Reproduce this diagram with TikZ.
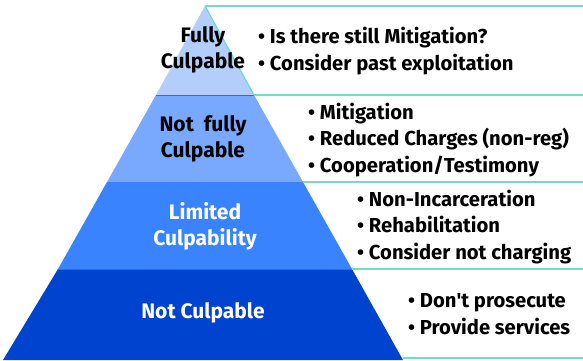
\documentclass[tikz,border=0pt]{standalone}
\usepackage{fontspec}
\setmainfont{Fira Sans}
\usetikzlibrary{positioning}

\definecolor{tierA}{HTML}{B4CEFB}
\definecolor{tierB}{HTML}{78A9FF}
\definecolor{tierC}{HTML}{3A83FF}
\definecolor{tierD}{HTML}{0043CE}
\definecolor{rimline}{HTML}{6FDCC8}

\tikzset{
  tierlabel/.style={align=center, font=\bfseries\fontsize{21}{26}\selectfont},
  pointlist/.style={anchor=west, align=left, font=\bfseries\fontsize{20.2}{26.5}\selectfont, inner sep=0pt},
  rim/.style={draw=rimline, line width=1.2pt}
}

\begin{document}
\begin{tikzpicture}[x=1pt, y=-1pt]
    %% fixed frame, same size as the page
        \useasboundingbox (0,0) rectangle (583,360);
    %% corners of the pyramid, one pair per tier edge
        \coordinate (apex) at (205,6);
        \coordinate (l1) at (156,95);  \coordinate (r1) at (254,95);
        \coordinate (l2) at (107,182); \coordinate (r2) at (303,182);
        \coordinate (l3) at (58,269);  \coordinate (r3) at (352,269);
        \coordinate (l4) at (3,360);   \coordinate (r4) at (403,360);
    %% the four tiers
        \fill[tierA] (apex) -- (r1) -- (l1) -- cycle;
        \fill[tierB] (l1) -- (r1) -- (r2) -- (l2) -- cycle;
        \fill[tierC] (l2) -- (r2) -- (r3) -- (l3) -- cycle;
        \fill[tierD] (l3) -- (r3) -- (r4) -- (l4) -- cycle;
        \draw[black!60, line width=0.5pt] (l1) -- (r1);
        \draw[black!60, line width=0.5pt] (l3) -- (r3);
    %% outlines of the text boxes on the right
        \coordinate (e0) at (583,6);
        \coordinate (e1) at (583,95);
        \coordinate (e2) at (583,182);
        \coordinate (e3) at (583,269);
        \coordinate (e4) at (583,358);
        \draw[rim] (apex) -- (e0);
        \draw[rim] (apex) -- (r1);
        \draw[rim] (r1) -- (e1);
        \draw[rim] (r2) -- (e2);
        \draw[rim] (r3) -- (e3);
        \draw[rim] (403,358) -- (e4);
    %% tier labels
        \node[tierlabel] (full) at (203,50) {Fully\\Culpable};
        \node[tierlabel] (notfull) at (203,139) {Not~ fully\\Culpable};
        \node[tierlabel, white] (limited) at (205,226) {Limited\\Culpability};
        \node[tierlabel, white] (notculp) at (203,313) {Not Culpable};
    %% the points for each tier
        \node[pointlist] (fullpts) at (258,51) {\textbullet\ Is there still Mitigation?\\\textbullet\ Consider past exploitation};
        \node[pointlist] (notfullpts) at (308,140) {\textbullet\ Mitigation\\\textbullet\ Reduced Charges (non-reg)\\\textbullet\ Cooperation/Testimony};
        \node[pointlist] (limitedpts) at (357,227) {\textbullet\ Non-Incarceration\\\textbullet\ Rehabilitation\\\textbullet\ Consider not charging};
        \node[pointlist] (notculppts) at (408,314) {\textbullet\ Don\textquotesingle t prosecute\\\textbullet\ Provide services};
\end{tikzpicture}
\end{document}
